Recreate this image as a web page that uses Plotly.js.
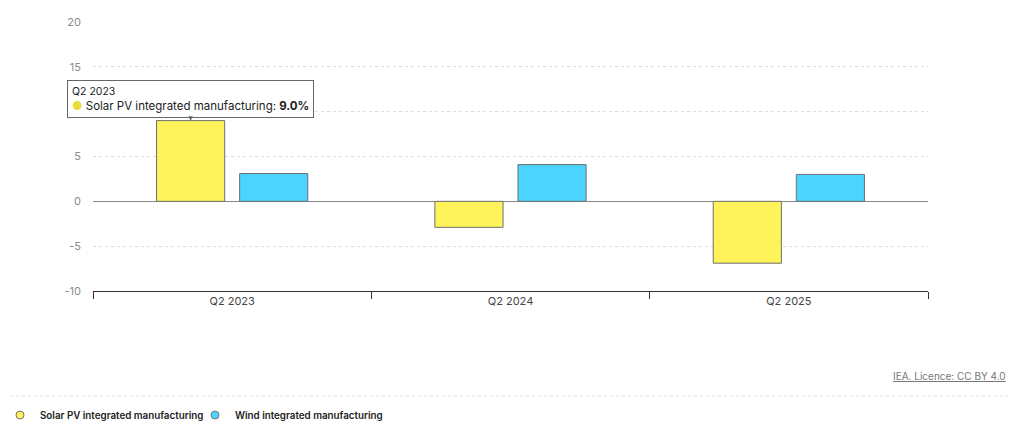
<!DOCTYPE html>
<html>
<head>
<meta charset="utf-8">
<script src="https://cdn.plot.ly/plotly-3.0.1.min.js"></script>
<style>
  html, body { margin: 0; padding: 0; background: #fff; }
  #chart { width: 1024px; height: 425px; }
</style>
</head>
<body>
<div id="chart"></div>
<script>
// ---- Data ----
const categories = ["Q2 2023", "Q2 2024", "Q2 2025"];
const solarName = "Solar PV integrated manufacturing";
const windName = "Wind integrated manufacturing";
const solarValues = [9.0, -2.9, -6.9];
const windValues = [3.1, 4.1, 3.0];
const yTickValues = [-10, -5, 0, 5, 10, 15, 20];
const yTickLabels = ["-10", "-5", "0", "5", "10", "15", "20"];

// ---- Styles ----
const solarColor = "#fff35c";
const windColor = "#4ad4ff";
const barEdge = "#6f6f6f";
const fontFam = "Inter, 'Noto Sans', sans-serif";
const bargap = 0.403;
const bargroupgap = 0.18;

// plot-area geometry in pixels (for paper coordinate conversion of decorations)
const W = 1024, H = 425;
const M = { l: 93, r: 96, t: 22, b: 134, autoexpand: false };
const pw = W - M.l - M.r, ph = H - M.t - M.b;
const px = x => (x - M.l) / pw;
const py = y => (H - M.b - y) / ph;

const traces = [
  {
    type: "bar", name: solarName, x: categories, y: solarValues,
    marker: { color: solarColor, line: { color: barEdge, width: 1 } },
    showlegend: false, hoverinfo: "skip"
  },
  {
    type: "bar", name: windName, x: categories, y: windValues,
    marker: { color: windColor, line: { color: barEdge, width: 1 } },
    showlegend: false, hoverinfo: "skip"
  },
  // legend proxies with circle markers
  {
    type: "scatter", mode: "markers", name: solarName, x: [null], y: [null],
    marker: { symbol: "circle", size: 8, color: solarColor, line: { color: "#777", width: 1 } },
    hoverinfo: "skip"
  },
  {
    type: "scatter", mode: "markers", name: windName, x: [null], y: [null],
    marker: { symbol: "circle", size: 8, color: windColor, line: { color: "#777", width: 1 } },
    hoverinfo: "skip"
  }
];

// tooltip position: centre of the first solar bar in category index units
const solarOffset = -(1 - bargap) / 4;

const layout = {
  width: W, height: H,
  margin: M,
  paper_bgcolor: "#fff", plot_bgcolor: "#fff",
  font: { family: fontFam, size: 11, color: "#333" },
  barmode: "group", bargap: bargap, bargroupgap: bargroupgap,
  showlegend: true,
  legend: {
    orientation: "h", xref: "container", yref: "container",
    x: 0, xanchor: "left", y: (H - 415) / H, yanchor: "middle",
    font: { family: fontFam, size: 9.8, color: "#222", weight: 600 },
    itemclick: false, itemdoubleclick: false, traceorder: "normal",
    entrywidth: 150, entrywidthmode: "pixels", bgcolor: "rgba(0,0,0,0)"
  },
  xaxis: {
    type: "category", categoryorder: "array", categoryarray: categories,
    range: [-0.5, categories.length - 0.5], autorange: false,
    showline: true, linecolor: "#333", linewidth: 1,
    ticks: "outside", tickson: "boundaries", ticklen: 7, tickcolor: "#333", tickwidth: 1,
    tickfont: { family: fontFam, size: 11, color: "#444" },
    showgrid: false, zeroline: false, fixedrange: true
  },
  yaxis: {
    range: [-10, 20], autorange: false, tickvals: yTickValues, ticktext: yTickLabels,
    showgrid: true, gridcolor: "#dcdcdc", griddash: "dot", gridwidth: 1,
    zeroline: true, zerolinecolor: "#888", zerolinewidth: 1.5,
    showline: false, ticks: "", ticklabelstandoff: 11,
    tickfont: { family: fontFam, size: 11, color: "#8a8a8a" },
    fixedrange: true
  },
  shapes: [
    {
      type: "line", xref: "paper", yref: "paper",
      x0: px(10), x1: px(1008), y0: py(396), y1: py(396),
      line: { color: "#dedede", width: 1, dash: "dot" }
    }
  ],
  annotations: [
    {
      xref: "x", yref: "y", x: solarOffset, y: solarValues[0],
      text: "<span style='font-size:10.5px'>Q2 2023</span><br><span style='color:#e8db3c'>●</span> " +
            solarName + ": <b>" + solarValues[0].toFixed(1) + "%</b>",
      showarrow: true, arrowhead: 2, arrowsize: 0.9, arrowwidth: 1, arrowcolor: "#666",
      ax: 0, ay: -22, standoff: 0,
      align: "left", bgcolor: "#fff", bordercolor: "#666", borderwidth: 1, borderpad: 4,
      font: { family: fontFam, size: 11.5, color: "#222" }
    },
    {
      xref: "paper", yref: "paper", x: px(1008), y: py(376), xanchor: "right", yanchor: "middle",
      text: "<span style='text-decoration:underline'>IEA. Licence: CC BY 4.0</span>",
      showarrow: false, font: { family: fontFam, size: 10, color: "#777" }
    }
  ]
};

Plotly.newPlot("chart", traces, layout, { displayModeBar: false, staticPlot: true });
</script>
</body>
</html>
